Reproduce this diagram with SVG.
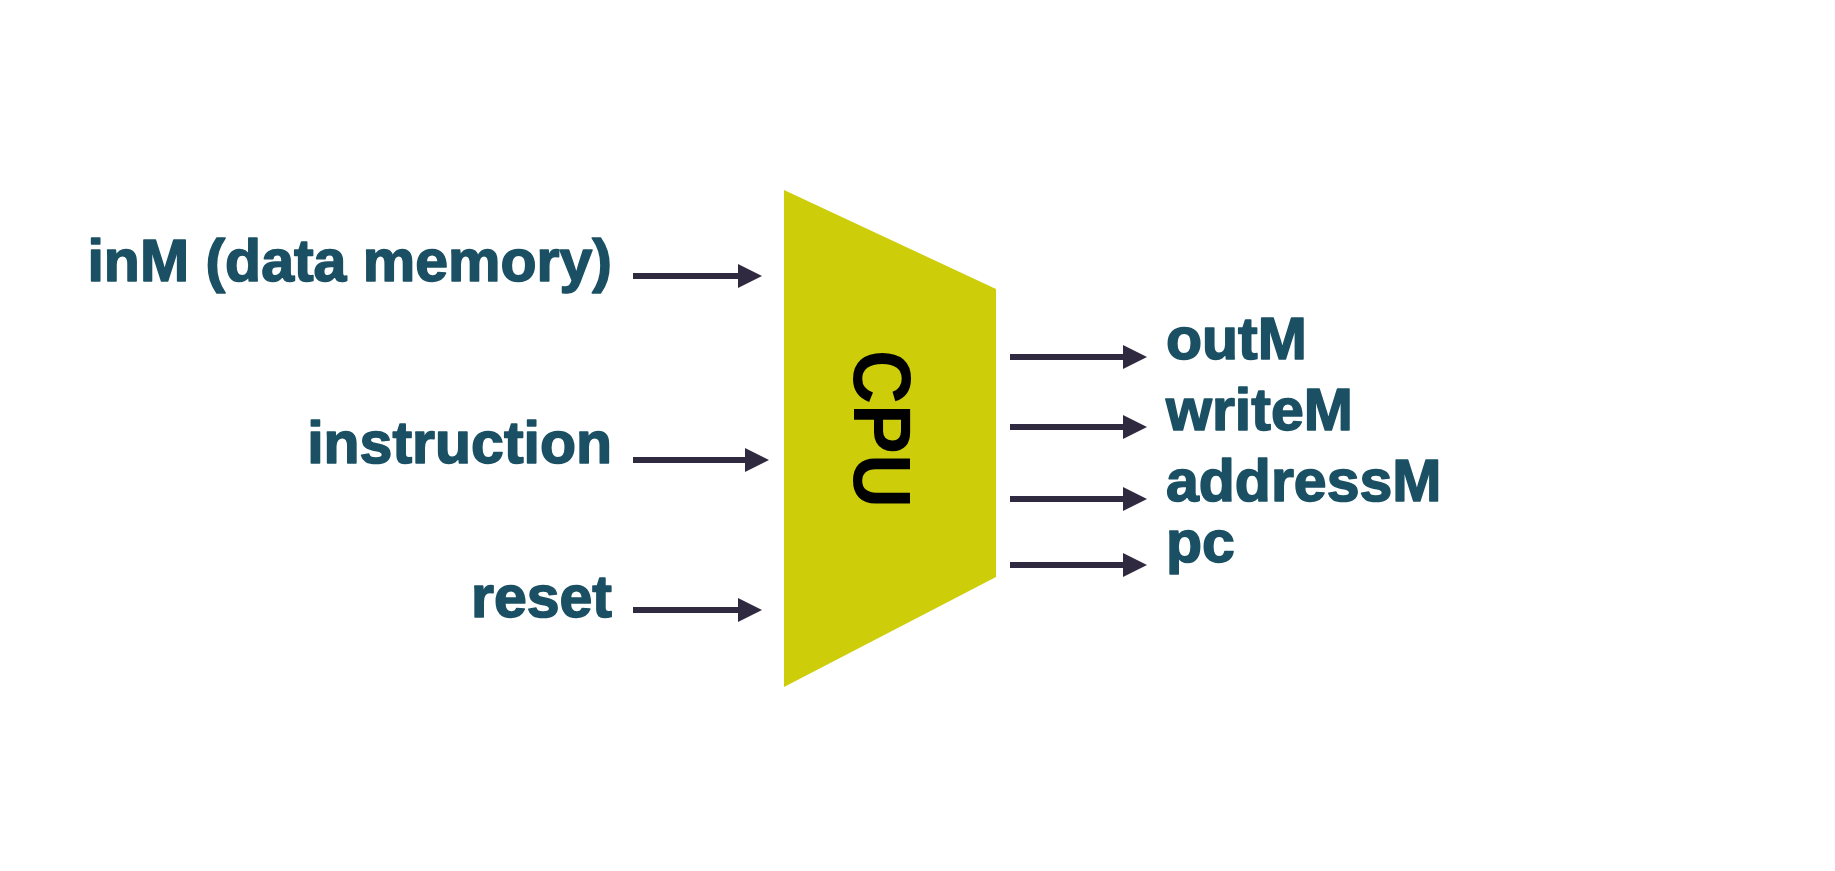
<svg xmlns="http://www.w3.org/2000/svg" width="1835" height="871" viewBox="0 0 1835 871">
<style>
.lbl{font-family:"Liberation Sans",Arial,sans-serif;font-weight:bold;font-size:59px;fill:#1b5064;stroke:#1b5064;stroke-width:1.6;stroke-linejoin:round}
.cpu{font-family:"Liberation Sans",Arial,sans-serif;font-weight:bold;font-size:81px;fill:#000}
.wire{stroke:#2f2a40;stroke-width:6;fill:none;marker-end:url(#ah)}
</style>
<defs>
<marker id="ah" markerUnits="userSpaceOnUse" markerWidth="26" markerHeight="26" refX="2" refY="12.5" orient="auto">
<path d="M0,0.5 L24,12.5 L0,24.5 Z" fill="#2f2a40"/>
</marker>
</defs>
<rect width="1835" height="871" fill="#fff"/>
<g id="cpu">
<polygon points="784,190 996,289 996,577 784,687" fill="#cdcd0a"/>
<text class="cpu" transform="translate(854,429) rotate(90)" text-anchor="middle" textLength="158" lengthAdjust="spacingAndGlyphs">CPU</text>
</g>
<g id="in-inM"><text class="lbl" x="612" y="281" text-anchor="end">inM (data memory)</text></g>
<g id="in-instruction"><text class="lbl" x="612" y="463" text-anchor="end">instruction</text></g>
<g id="in-reset"><text class="lbl" x="612" y="617" text-anchor="end">reset</text></g>
<g id="out-outM"><text class="lbl" x="1166" y="359">outM</text></g>
<g id="out-writeM"><text class="lbl" x="1166" y="430">writeM</text></g>
<g id="out-addressM"><text class="lbl" x="1166" y="501">addressM</text></g>
<g id="out-pc"><text class="lbl" x="1166" y="562">pc</text></g>
<g id="connectors">
<line class="wire" x1="633" y1="276" x2="740" y2="276"/>
<line class="wire" x1="633" y1="460" x2="747" y2="460"/>
<line class="wire" x1="633" y1="610" x2="740" y2="610"/>
<line class="wire" x1="1010" y1="357" x2="1125" y2="357"/>
<line class="wire" x1="1010" y1="427" x2="1125" y2="427"/>
<line class="wire" x1="1010" y1="499" x2="1125" y2="499"/>
<line class="wire" x1="1010" y1="565" x2="1125" y2="565"/>
</g>
</svg>
